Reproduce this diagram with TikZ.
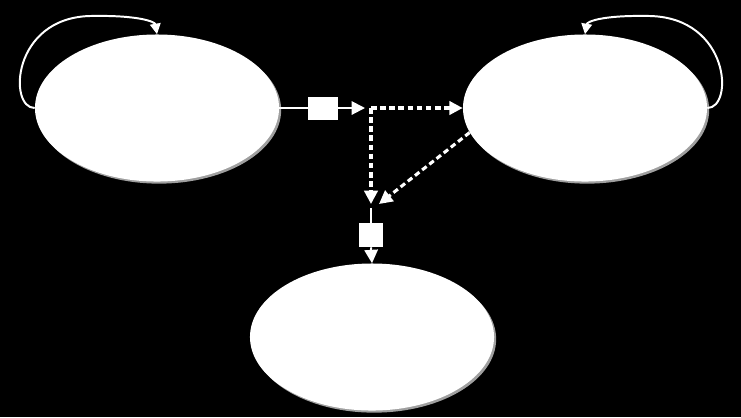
\documentclass[tikz,border=0pt]{standalone}
\usepackage{amsmath}
\usepackage{tikz}
\usetikzlibrary{shapes, positioning, shadows, arrows.meta}

\tikzset{
	state/.style={ellipse, fill=white, minimum width=6.1cm, minimum height=3.675cm, inner sep=0pt,
		drop shadow={shadow xshift=1.5pt, shadow yshift=-1.5pt, fill=gray!75, opacity=1}},
	gate/.style={rectangle, fill=white, inner sep=0pt},
	flow/.style={white, line width=1.4pt},
	dflow/.style={white, line width=2.2pt, dash pattern=on 4pt off 2.5pt},
	tip/.style={-{Triangle[length=9.5pt, width=9.5pt]}},
	looptip/.style={-{Triangle[length=7.5pt, width=7.5pt]}}
}

\begin{document}
\begin{tikzpicture}[x=0.025cm, y=-0.025cm]
			\fill[black] (0,0) rectangle (741,417);
			\useasboundingbox (0,0) rectangle (741,417);
			\node[state] (left) at (157,108) {};
			\node[state] (right) at (585,108) {};
			\node[state] (bottom) at (372,337) {};
			\node[gate, minimum width=0.75cm, minimum height=0.575cm] (gateA) at (323,108) {};
			\node[gate, minimum width=0.6cm, minimum height=0.6cm] (gateB) at (371,235) {};
			\coordinate (fork) at (371,108);
			\coordinate (join) at (371,204);
			\coordinate (split) at (371,208);
			\draw[flow, looptip] (left.west) .. controls (8,108) and (12,18) .. (90,16) .. controls (140,15) and (155,22) .. (left.north);
			\draw[flow, looptip] (right.east) .. controls (734,108) and (730,18) .. (650,16) .. controls (600,15) and (587,22) .. (right.north);
			\draw[flow] (left.east) -- (gateA.west);
			\draw[flow, tip] (gateA.east) -- ([xshift=-0.15cm]fork);
			\draw[dflow, tip] (fork) -- (right.west);
			\draw[dflow, tip] (fork) -- (join);
			\draw[dflow, tip] (right.192) -- ([xshift=0.2cm]join);
			\draw[flow] (split) -- (gateB.north);
			\draw[flow, tip] (gateB.south) -- (bottom.north);
		\end{tikzpicture}
\end{document}
